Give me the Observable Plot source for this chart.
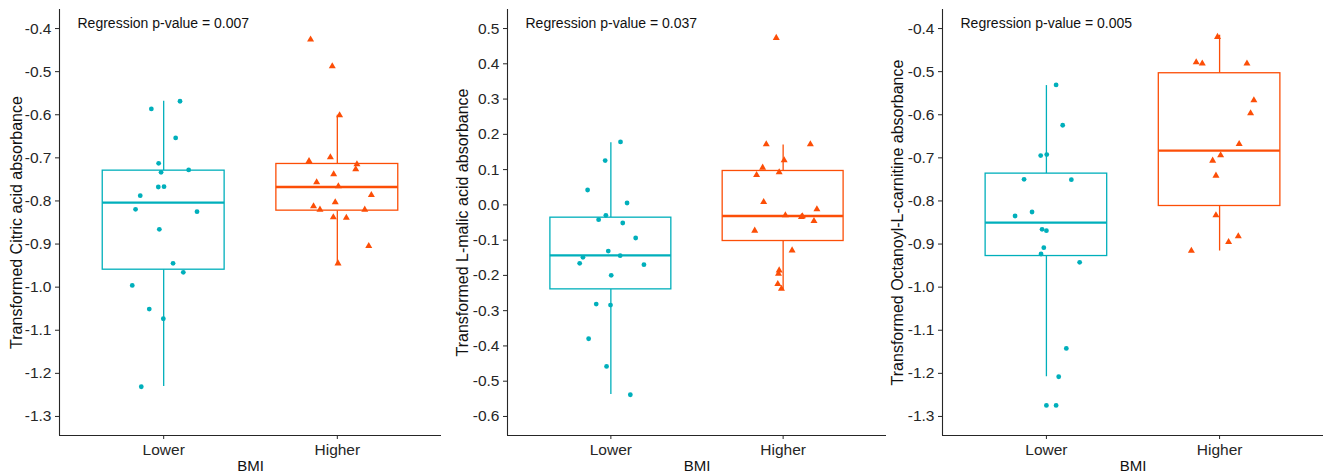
<!DOCTYPE html>
<html><head><meta charset="utf-8">
<script src="https://cdn.jsdelivr.net/npm/d3@7"></script>
<script src="https://cdn.jsdelivr.net/npm/@observablehq/plot@0.6"></script>
<style>
body{margin:0;background:#fff;}
#row{display:flex;width:1323px;height:475px;overflow:hidden;}
#row svg{display:block;flex:none;}
</style></head><body><div id="row"></div>
<script>
// ---- categories & labels ----
const categories = ["Lower", "Higher"];
const groupPos = [1, 2];
const xLimits = [0.4, 2.6];
const xLabel = "BMI";
const colors = ["#00AFBB", "#FC4E07"];
const titles = [
  "Transformed Citric acid absorbance",
  "Transformed L-malic acid absorbance",
  "Transformed Octanoyl-L-carnitine absorbance"
];
const pValues = ["0.007", "0.037", "0.005"];
const yLimits = [[-1.3442, -0.3558], [-0.654, 0.554], [-1.3442, -0.3558]];
const yTicks1 = [-0.4, -0.5, -0.6, -0.7, -0.8, -0.9, -1.0, -1.1, -1.2, -1.3];
const yTicks2 = [0.5, 0.4, 0.3, 0.2, 0.1, 0.0, -0.1, -0.2, -0.3, -0.4, -0.5, -0.6];
const yTicks3 = [-0.4, -0.5, -0.6, -0.7, -0.8, -0.9, -1.0, -1.1, -1.2, -1.3];

// ---- panel 1: citric acid ----
const citricLower = [-0.5865,-0.5687,-0.6538,-0.7126,-0.7335,-0.7281,-0.7676,-0.7668,-0.7877,-0.8194,-0.8249,-0.8659,-0.9448,-0.9657,-0.9959,-1.0508,-1.0733,-1.2311];
const citricLowerJitter = [-0.071,0.094,0.069,-0.029,-0.015,0.144,-0.031,0.002,-0.135,-0.162,0.192,-0.025,0.054,0.113,-0.181,-0.083,-0.002,-0.129];
const citricHigher = [-0.4255,-0.4874,-0.6012,-0.7072,-0.6987,-0.7150,-0.7266,-0.7382,-0.7568,-0.7660,-0.7862,-0.8032,-0.8125,-0.8202,-0.8202,-0.8380,-0.8388,-0.9046,-0.9448];
const citricHigherJitter = [-0.154,-0.029,0.013,-0.163,-0.040,0.113,0.106,-0.021,-0.119,0.006,0.196,-0.012,-0.137,-0.100,0.158,-0.023,0.052,0.181,0.004];
// box stats: [lower whisker, Q1, median, Q3, upper whisker]
const citricLowerBox = [-1.2304,-0.9595,-0.8040,-0.7297,-0.5687];
const citricHigherBox = [-0.9448,-0.8225,-0.7676,-0.7142,-0.6012];

// ---- panel 2: L-malic acid ----
const malicLower = [0.1784,0.1255,0.0422,0.0053,-0.0297,-0.0419,-0.0514,-0.0940,-0.1309,-0.1441,-0.1488,-0.1659,-0.1696,-0.1999,-0.2812,-0.2841,-0.3796,-0.4581,-0.5385];
const malicLowerJitter = [0.056,-0.033,-0.135,0.094,-0.029,-0.071,0.069,0.144,-0.015,0.054,-0.162,-0.181,0.192,0.002,-0.085,-0.002,-0.129,-0.025,0.113];
const malicHigher = [0.4735,0.1718,0.1718,0.1264,0.1056,0.0848,0.0924,0.0082,-0.0126,-0.0297,-0.0344,-0.0325,-0.0457,-0.0731,-0.1290,-0.1857,-0.1952,-0.2245,-0.2377];
const malicHigherJitter = [-0.040,-0.098,0.158,0.006,-0.119,-0.154,-0.023,-0.113,0.196,0.013,0.106,0.112,0.179,-0.165,0.052,-0.023,-0.027,-0.031,-0.010];
const malicLowerBox = [-0.5375,-0.2396,-0.1431,-0.0363,0.1765];
const malicHigherBox = [-0.2406,-0.1025,-0.0315,0.0961,0.1699];

// ---- panel 3: octanoyl-L-carnitine ----
const octLower = [-0.5308,-0.6244,-0.6948,-0.6925,-0.7498,-0.7506,-0.8256,-0.8349,-0.8659,-0.8690,-0.9084,-0.9231,-0.9425,-1.1422,-1.2079,-1.2745,-1.2745];
const octLowerJitter = [0.056,0.094,-0.033,0.002,-0.129,0.144,-0.083,-0.181,-0.025,0.000,-0.015,-0.031,0.192,0.115,0.071,0.000,0.056];
const octHigher = [-0.4193,-0.4782,-0.4813,-0.4813,-0.5664,-0.5966,-0.6678,-0.6941,-0.7065,-0.7413,-0.8334,-0.8821,-0.8953,-0.9154];
const octHigherJitter = [-0.012,-0.135,-0.100,0.158,0.198,0.179,0.113,0.006,-0.040,-0.021,-0.021,0.108,0.052,-0.163];
const octLowerBox = [-1.2079,-0.9278,-0.8504,-0.7366,-0.5323];
const octHigherBox = [-0.9162,-0.8117,-0.6832,-0.5037,-0.4155];

// ---- assembly ----
const panels = [
  {groups: [[citricLower, citricLowerJitter, citricLowerBox], [citricHigher, citricHigherJitter, citricHigherBox]], ticks: yTicks1, width: 441, marginLeft: 59, titleOffset: 43},
  {groups: [[malicLower, malicLowerJitter, malicLowerBox], [malicHigher, malicHigherJitter, malicHigherBox]], ticks: yTicks2, width: 445, marginLeft: 66, titleOffset: 44.5},
  {groups: [[octLower, octLowerJitter, octLowerBox], [octHigher, octHigherJitter, octHigherBox]], ticks: yTicks3, width: 437, marginLeft: 56, titleOffset: 44.5}
];

const fontFamily = "'Liberation Sans', Arial, Helvetica, sans-serif";
const halfBox = 0.351;
const axisColor = "#262626";

function panelPlot(p, i) {
  const points = [];
  const boxes = [];
  p.groups.forEach(([vals, jit, box], g) => {
    vals.forEach((v, k) => points.push({x: groupPos[g] + jit[k], y: v, g}));
    boxes.push({x: groupPos[g], lo: box[0], q1: box[1], med: box[2], q3: box[3], hi: box[4], color: colors[g]});
  });
  const yd = yLimits[i];
  return Plot.plot({
    width: p.width, height: 475,
    marginLeft: p.marginLeft, marginRight: 0, marginTop: 9, marginBottom: 40,
    x: {domain: xLimits, axis: null},
    y: {domain: yd, axis: null},
    style: {fontFamily, background: "white", overflow: "visible"},
    marks: [
      Plot.ruleX(boxes, {x: "x", y1: "lo", y2: "q1", stroke: "color", strokeWidth: 1.3}),
      Plot.ruleX(boxes, {x: "x", y1: "q3", y2: "hi", stroke: "color", strokeWidth: 1.3}),
      Plot.rect(boxes, {x1: d => d.x - halfBox, x2: d => d.x + halfBox, y1: "q1", y2: "q3", fill: "white", stroke: "color", strokeWidth: 1.3}),
      Plot.ruleY(boxes, {y: "med", x1: d => d.x - halfBox, x2: d => d.x + halfBox, stroke: "color", strokeWidth: 2.4}),
      Plot.dot(points.filter(d => d.g === 0), {x: "x", y: "y", r: 2.4, fill: colors[0], stroke: "none", symbol: "circle"}),
      Plot.dot(points.filter(d => d.g === 1), {x: "x", y: "y", r: 2.6, fill: colors[1], stroke: "none", symbol: "triangle"}),
      Plot.axisY({ticks: p.ticks, tickFormat: d => d.toFixed(1), tickSize: 4, tickPadding: 4, fontSize: 15.5, label: null, color: axisColor}),
      Plot.axisX({ticks: groupPos, tickFormat: d => categories[d - 1], tickSize: 4, tickPadding: 4, fontSize: 15.5, label: null, color: axisColor}),
      Plot.ruleX([xLimits[0]], {y1: yd[0], y2: yd[1], stroke: axisColor, strokeWidth: 1.1}),
      Plot.ruleY([yd[0]], {x1: xLimits[0], x2: xLimits[1], stroke: axisColor, strokeWidth: 1.1}),
      Plot.text([titles[i]], {text: d => d, frameAnchor: "left", dx: -p.titleOffset, rotate: -90, textAnchor: "middle", lineAnchor: "middle", fontSize: 16, fill: "#111"}),
      Plot.text([xLabel], {text: d => d, frameAnchor: "bottom", dy: 31, textAnchor: "middle", lineAnchor: "middle", fontSize: 15, fill: "#111"}),
      Plot.text([`Regression p-value = ${pValues[i]}`], {text: d => d, frameAnchor: "top-left", dx: 18, dy: 14, textAnchor: "start", lineAnchor: "middle", fontSize: 14, fill: "#111"})
    ]
  });
}

const row = document.getElementById("row");
panels.forEach((p, i) => row.appendChild(panelPlot(p, i)));
</script>
</body></html>
